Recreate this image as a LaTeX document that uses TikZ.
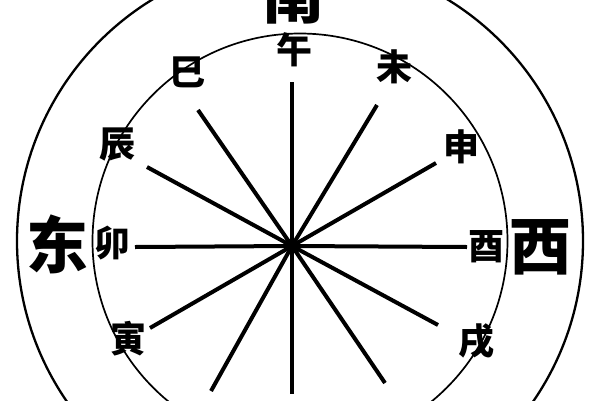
\documentclass[tikz,border=0pt]{standalone}
\usepackage{fontspec}
\newfontfamily\cjk{Noto Sans CJK SC}
\begin{document}
\begin{tikzpicture}[x=1pt,y=-1pt,
  ray/.style={line width=4pt},
  ring/.style={line width=2.3pt},
  inring/.style={line width=1.7pt},
  small/.style={font=\cjk\bfseries\fontsize{36}{36}\selectfont, inner sep=0pt},
  big/.style={font=\cjk\bfseries\fontsize{62}{62}\selectfont, inner sep=0pt}]
\fill[white] (0,0) rectangle (600,400);
\useasboundingbox (0,0) rectangle (600,400);
\clip (0,0) rectangle (600,400);
\coordinate (c) at (300,241);
\draw[ring] (c) circle[radius=283];
\draw[inring] (c) circle[radius=207.5];
\coordinate (o) at (292,246);
\coordinate (eN) at (292,82);
\coordinate (eS) at (292,394);
\coordinate (eW) at (135,247);
\coordinate (eE) at (467,247);
\coordinate (eSi) at (198,110);
\coordinate (eCh) at (147,167);
\coordinate (eWe) at (377,105);
\coordinate (eSh) at (436,163);
\coordinate (eYi) at (150,328);
\coordinate (eCo) at (211,391);
\coordinate (eXu) at (438,325);
\coordinate (eHa) at (385,383);
\foreach \e in {eN,eS,eW,eE,eSi,eCh,eWe,eSh,eYi,eCo,eXu,eHa}
  \draw[ray] (o) -- (\e);
\node[small] (wu) at (294,50) {午};
\node[small] (si) at (187,72) {巳};
\node[small] (wei) at (394,67) {未};
\node[small] (chen) at (117,145) {辰};
\node[small] (shen) at (461,147) {申};
\node[small] (mao) at (112,243) {卯};
\node[small] (you) at (486,247) {酉};
\node[small] (yin) at (128,339) {寅};
\node[small] (xu) at (476,341) {戌};
\node[big] (nan) at (293,-5) {南};
\node[big] (dong) at (57,244) {东};
\node[big] (xi) at (540,247) {西};
\end{tikzpicture}
\end{document}
